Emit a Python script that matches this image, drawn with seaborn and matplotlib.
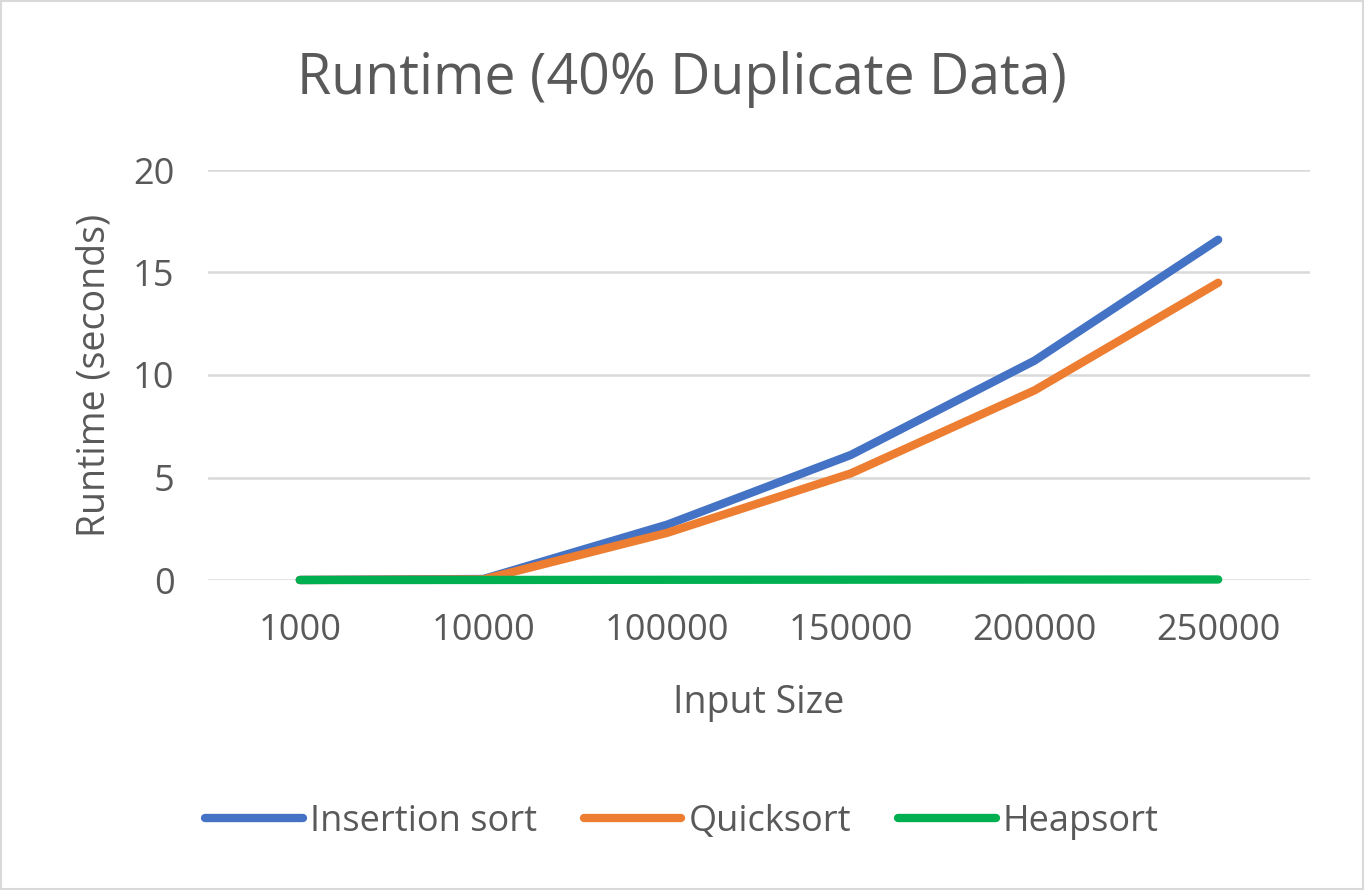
import numpy as np
import pandas as pd
import matplotlib.pyplot as plt
import seaborn as sns

sizes = ["1000", "10000", "100000", "150000", "200000", "250000"]
insertion = [0.0, 0.05, 2.7, 6.1, 10.7, 16.6]
quicksort = [0.0, 0.03, 2.3, 5.2, 9.25, 14.5]
heapsort = [0.0, 0.002, 0.01, 0.015, 0.02, 0.025]

series = {"Insertion sort": insertion, "Quicksort": quicksort, "Heapsort": heapsort}
colors = {"Insertion sort": "#4472c4", "Quicksort": "#ed7d31", "Heapsort": "#00b050"}

rows = []
for name, vals in series.items():
    for i, v in enumerate(vals):
        rows.append({"pos": i, "Runtime": v, "Algorithm": name})
df = pd.DataFrame(rows)

sns.set_theme(style="white")
plt.rcParams["font.family"] = ["Open Sans", "DejaVu Sans"]
txt = "#595959"

fig = plt.figure(figsize=(13.64, 8.9), dpi=100)
ax = fig.add_axes([208 / 1364, 1 - 580 / 890, 1102 / 1364, 410 / 890])

sns.lineplot(data=df, x="pos", y="Runtime", hue="Algorithm", palette=colors,
             linewidth=6, ax=ax, legend=False, solid_capstyle="round")
for ln in ax.lines:
    ln.set_clip_on(False)

ax.set_xlim(-0.5, 5.5)
ax.set_ylim(0, 20)
ax.set_yticks([0, 5, 10, 15, 20])
ax.set_xticks(range(len(sizes)))
ax.set_xticklabels(sizes)
ax.tick_params(axis="both", colors=txt, labelsize=26, length=0)
ax.tick_params(axis="x", pad=24)
ax.tick_params(axis="y", pad=24)
ax.grid(axis="y", color="#d9d9d9", linewidth=1.8)
ax.set_axisbelow(True)
for s in ax.spines.values():
    s.set_visible(False)
ax.set_xlabel("Input Size", fontsize=27, color=txt, labelpad=25)
ax.set_ylabel("Runtime (seconds)", fontsize=27, color=txt, labelpad=14)

fig.text(0.5, 1 - 80 / 890, "Runtime (40% Duplicate Data)", ha="center", va="center",
         fontsize=40, color=txt)

handles = [plt.Line2D([], [], color=colors[n], linewidth=6) for n in series]
fig.legend(handles, list(series), loc="center", bbox_to_anchor=(0.5, 1 - 822 / 890),
           ncol=3, frameon=False, fontsize=26, handlelength=2.7, columnspacing=1.3,
           handletextpad=0.2, labelcolor=txt)

fig.patches.append(plt.Rectangle((0.001, 0.001), 0.998, 0.998, transform=fig.transFigure,
                                 fill=False, edgecolor="#d9d9d9", linewidth=1.5))

fig.savefig("out.png", dpi=100, facecolor="white")
